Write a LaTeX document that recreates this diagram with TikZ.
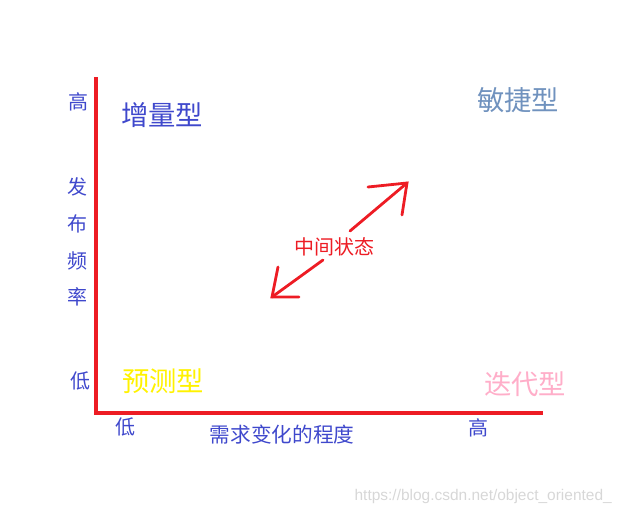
\documentclass[tikz,border=0pt]{standalone}
\usepackage{fontspec}
\setmainfont{Liberation Sans}
\newfontfamily\cjk{Noto Sans CJK SC}
\definecolor{axisred}{RGB}{237,28,36}
\definecolor{labelblue}{RGB}{63,72,204}
\definecolor{agileblue}{RGB}{112,146,190}
\definecolor{predyellow}{RGB}{255,242,0}
\definecolor{iterpink}{RGB}{255,174,201}
\definecolor{markgray}{RGB}{215,215,215}
\begin{document}
\begin{tikzpicture}[
        x=0.75pt, y=-0.75pt,
        axisline/.style={draw=axisred, line width=2.5pt},
        arrowline/.style={draw=axisred, line width=2.1pt, line cap=round},
        ticklabel/.style={text=labelblue, font=\cjk\fontsize{15}{17}\selectfont},
        quadrant/.style={font=\cjk\fontsize{20.5}{23}\selectfont},
        every node/.style={inner sep=0pt, anchor=center},
    ]
    \useasboundingbox (0,0) rectangle (622,515);
    % axes
    \coordinate (top) at (96,77);
    \coordinate (origin) at (96,413);
    \coordinate (right) at (543,413);
    \draw[axisline] (top) -- (origin) -- (right);
    % vertical axis labels
    \node[ticklabel](yhigh) at (78,102){高};
    \node[ticklabel](y1) at (77,187){发};
    \node[ticklabel](y2) at (77,224){布};
    \node[ticklabel](y3) at (77,261){频};
    \node[ticklabel](y4) at (77,297){率};
    \node[ticklabel](ylow) at (80,381){低};
    % horizontal axis labels
    \node[ticklabel](xlow) at (125,427){低};
    \node[ticklabel, font=\cjk\fontsize{15.5}{17}\selectfont](xtitle) at (282,435){需求变化的程度};
    \node[ticklabel](xhigh) at (478,428){高};
    % quadrants
    \node[quadrant, text=labelblue](incr) at (162,115){增量型};
    \node[quadrant, text=agileblue](agile) at (518,100){敏捷型};
    \node[quadrant, text=predyellow](pred) at (163,381){预测型};
    \node[quadrant, text=iterpink](iter) at (525,384){迭代型};
    % middle state
    \node[text=axisred, font=\cjk\fontsize{15}{17}\selectfont](mid) at (334,247){中间状态};
    \coordinate (upstart) at (350,231);
    \coordinate (uptip) at (407,183);
    \coordinate (upbarbl) at (368,187);
    \coordinate (upbarbr) at (402,215);
    \draw[arrowline] (upstart) -- (uptip);
    \draw[arrowline] (upbarbl) -- (uptip) -- (upbarbr);
    \coordinate (downstart) at (323,260);
    \coordinate (downtip) at (272,297);
    \coordinate (downbarbl) at (278,267);
    \coordinate (downbarbr) at (299,297);
    \draw[arrowline] (downstart) -- (downtip);
    \draw[arrowline] (downbarbl) -- (downtip) -- (downbarbr);
    % watermark
    \node[anchor=east, text=markgray, font=\fontsize{11.6}{13}\selectfont](mark) at (612,496){https://blog.csdn.net/object\_oriented\_};
\end{tikzpicture}
\end{document}
